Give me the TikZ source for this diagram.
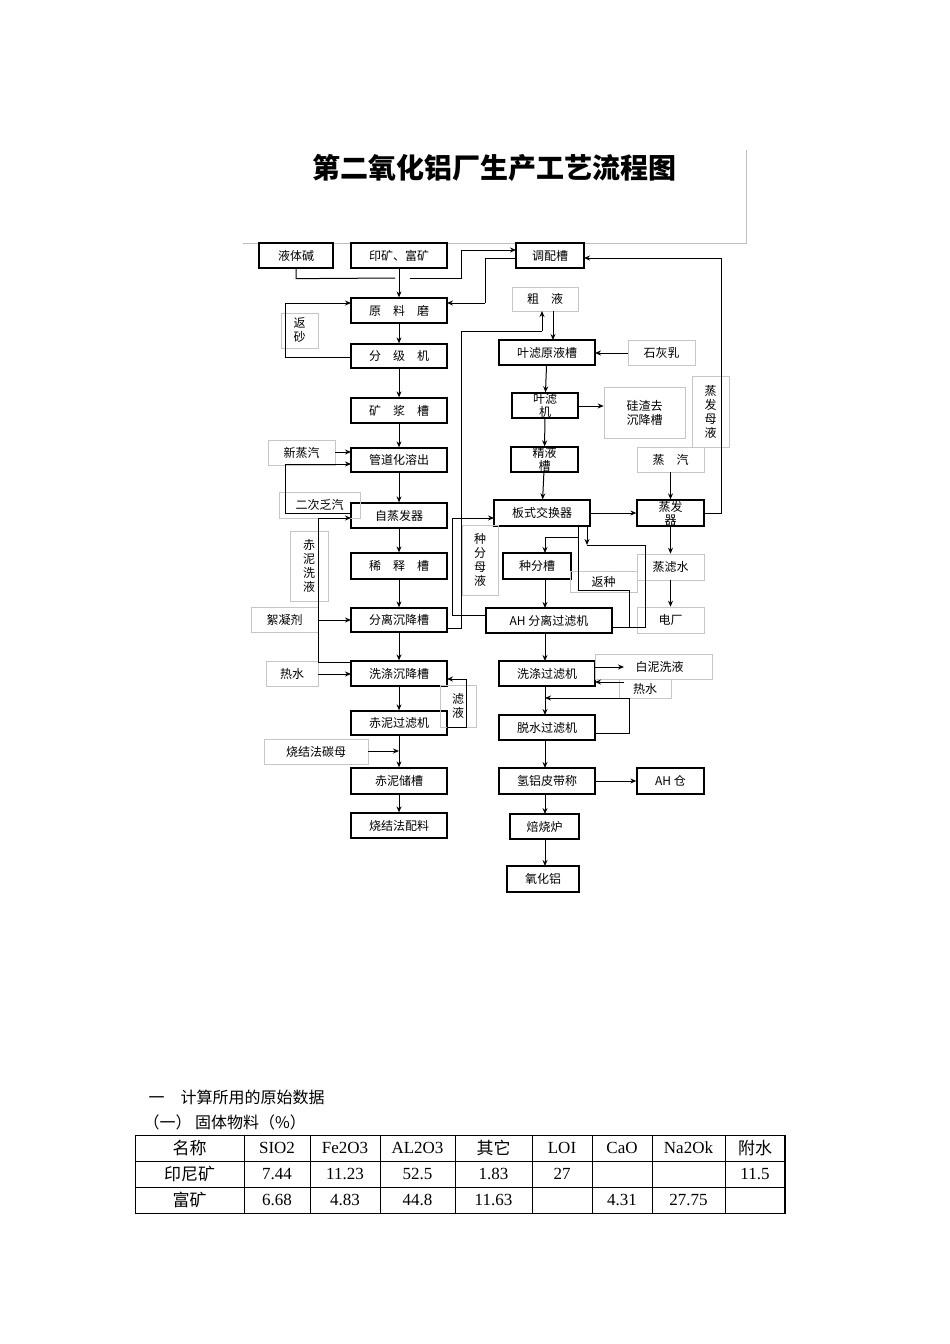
\documentclass[tikz,border=0pt]{standalone}
\usepackage{fontspec}
\setmainfont{Liberation Serif}
\newfontfamily\cjk{Noto Sans CJK SC}
\usetikzlibrary{arrows.meta}
\newcommand\bx[7][bk]{\node[#1,minimum width={(#5-#3)*1pt},minimum height={(#6-#4)*1pt}] (#2) at ({(#3+#5)/2},{(#4+#6)/2}) {#7};}
\begin{document}
\begin{tikzpicture}[x=1pt,y=-1pt,
 bk/.style={draw,line width=1.3pt,inner sep=0pt,font=\cjk\fontsize{12}{14}\selectfont,align=center},
 gy/.style={draw=gray!45,line width=0.6pt,inner sep=0pt,font=\cjk\fontsize{12}{14}\selectfont,align=center},
 ln/.style={line width=1pt},
 ar/.style={line width=1pt,-{Stealth[length=6pt,width=5pt]}},
 tc/.style={font=\fontsize{17}{18}\selectfont}]
\useasboundingbox[fill=white] (0,0) rectangle (950,1344);
% title
\node[font=\cjk\fontsize{28}{30}\selectfont\bfseries] (title) at (494,168) {第二氧化铝厂生产工艺流程图};
\draw[gray!50,line width=0.6pt] (746,150) -- (746,243) -- (243,243);
% left column
\bx{yjt}{259}{243}{333}{268}{液体碱}
\bx{ykf}{351}{243}{447}{268}{印矿、富矿}
\bx{tpc}{516}{243}{584}{268}{调配槽}
\bx{ylm}{351}{298}{447}{323}{原\quad 料\quad 磨}
\bx{fjj}{351}{344}{447}{368}{分\quad 级\quad 机}
\bx{kjc}{351}{398}{447}{423}{矿\quad 浆\quad 槽}
\bx{gdh}{351}{448}{447}{472}{管道化溶出}
\bx{zzf}{351}{503}{447}{528}{自蒸发器}
\bx{xsc}{351}{553}{447}{579}{稀\quad 释\quad 槽}
\bx{flc}{351}{608}{447}{632}{分离沉降槽}
\bx{xdc}{351}{661}{447}{686}{洗涤沉降槽}
\bx{cng}{351}{711}{447}{735}{赤泥过滤机}
\bx{cnc}{351}{768}{447}{794}{赤泥储槽}
\bx{sjp}{351}{813}{447}{838}{烧结法配料}
\bx[gy]{fs}{281}{313}{318}{348}{返\\砂}
\bx[gy]{xzq}{268}{440}{335}{465}{新蒸汽}
\bx[gy]{ecf}{279}{492}{360}{518}{二次乏汽}
\bx[gy]{cnx}{290}{531}{328}{601}{赤\\泥\\洗\\液}
\bx[gy]{xnj}{251}{607}{318}{632}{絮凝剂}
\bx[gy]{rs1}{266}{661}{318}{686}{热水}
\bx[gy]{ly}{440}{685}{476}{727}{滤\\液}
\bx[gy]{sjt}{264}{739}{368}{764}{烧结法碳母}
% right column
\bx[gy]{cy}{512}{287}{578}{311}{粗\quad 液}
\bx{ylc}{499}{340}{595}{365}{叶滤原液槽}
\bx[gy]{shr}{628}{340}{695}{365}{石灰乳}
\bx{ylj}{512}{393}{578}{418}{\raisebox{0pt}{叶滤}\\[-1pt]机}
\bx[gy]{gz}{604}{387}{685}{438}{硅渣去\\沉降槽}
\bx[gy]{zfm}{692}{376}{729}{447}{蒸\\发\\母\\液}
\bx{jyc}{511}{447}{578}{472}{精液\\[-1pt]槽}
\bx[gy]{zq}{637}{447}{704}{472}{蒸\quad 汽}
\bx{bsj}{494}{500}{590}{526}{板式交换器}
\bx{zfq}{637}{500}{704}{526}{蒸发\\[-1pt]器}
\bx[gy]{zfmy}{462}{525}{498}{595}{种\\分\\母\\液}
\bx{zfc}{503}{553}{571}{579}{种分槽}
\bx[gy]{zls}{637}{554}{704}{580}{蒸滤水}
\bx[gy]{fz}{570}{571}{637}{592}{返种}
\bx[gy]{dc}{637}{607}{704}{633}{电厂}
\bx{ahf}{486}{608}{612}{633}{AH 分离过滤机}
\bx{xdg}{499}{661}{595}{686}{洗涤过滤机}
\bx[gy]{bnx}{595}{654}{712}{679}{\quad 白泥洗液}
\bx[gy]{rs2}{619}{679}{671}{698}{热水}
\bx{tsg}{499}{715}{595}{740}{脱水过滤机}
\bx{qlp}{499}{768}{595}{794}{氢铝皮带称}
\bx{ahc}{637}{768}{704}{794}{AH 仓}
\bx{bsl}{510}{814}{579}{839}{焙烧炉}
\bx{yhl}{507}{866}{579}{892}{氧化铝}
% left connectors
\draw[ln] (yjt.south) -- ++(0,10) -- (395,278);
\draw[ar] (ykf.south) -- (ylm.north);
\draw[ln] (410,278) -- (461,278) -- (461,250);
\draw[ar] (461,250) -- (516,250);
\draw[ln] (516,258) -- (485,258) -- (485,303);
\draw[ar] (485,303) -- (447,303);
\draw[ln] (351,357) -- (285,357) -- (285,303);
\draw[ar] (285,303) -- (351,303);
\draw[ar] (ylm) -- (fjj);
\draw[ar] (fjj) -- (kjc);
\draw[ar] (kjc) -- (gdh);
\draw[ar] (gdh) -- (zzf);
\draw[ar] (zzf) -- (xsc);
\draw[ar] (xsc) -- (flc);
\draw[ar] (flc) -- (xdc);
\draw[ar] (xdc) -- (cng);
\draw[ar] (cng) -- (cnc);
\draw[ar] (cnc) -- (sjp);
\draw[ar] (xzq.east|-0,452) -- (351,452);
\draw[ln] (351,513) -- (285,513) -- (285,464);
\draw[ar] (285,464) -- (351,464);
\draw[ln] (351,662) -- (318,662) -- (318,518);
\draw[ar] (318,518) -- (351,518);
\draw[ar] (xnj.east|-0,620) -- (351,620);
\draw[ar] (rs1.east|-0,674) -- (351,674);
\draw[ln] (447,727) -- (466,727) -- (466,679);
\draw[ar] (466,679) -- (447,679);
\draw[ar] (sjt.east|-0,751) -- (399,751);
% right connectors
\draw[ln] (447,628) -- (461,628) -- (461,331) -- (542,331);
\draw[ar] (542,331) -- (542,311);
\draw[ar] (553,311) -- (553,340);
\draw[ar] (shr.west|-0,353) -- (595,353);
\draw[ar] (ylc) -- (ylj);
\draw[ar] (ylj.east|-0,406) -- (gz.west|-0,406);
\draw[ar] (ylj) -- (jyc);
\draw[ar] (jyc) -- (bsj);
\draw[ar] (bsj.east|-0,513) -- (zfq.west|-0,513);
\draw[ar] (zq) -- (zfq);
\draw[ln] (704,513) -- (721,513) -- (721,258);
\draw[ar] (721,258) -- (584,258);
\draw[ar] (zfq) -- (zls);
\draw[ar] (zls) -- (dc);
\draw[ln] (486,615) -- (452,615) -- (452,518);
\draw[ar] (452,518) -- (494,518);
\draw[ar] (587,526) -- (587,545);
\draw[ln] (587,545) -- (645,545) -- (645,627) -- (612,627);
\draw[ln] (578,526) -- (578,537) -- (545,537);
\draw[ar] (545,537) -- (545,553);
\draw[ln] (578,537) -- (578,590) -- (629,590) -- (629,627);
\draw[ar] (545,579) -- (545,608);
\draw[ar] (545,633) -- (545,661);
\draw[ar] (595,667) -- (624,667);
\draw[ar] (624,682) -- (595,682);
\draw[ar] (545,686) -- (545,715);
\draw[ln] (595,733) -- (629,733) -- (629,698);
\draw[ar] (629,698) -- (545,698);
\draw[ar] (545,740) -- (545,768);
\draw[ar] (qlp.east) -- (ahc.west);
\draw[ar] (545,794) -- (545,814);
\draw[ar] (545,839) -- (545,866);
% text below
\node[anchor=west,font=\cjk\fontsize{16}{18}\selectfont] (h1) at (145,1097) {一\quad 计算所用的原始数据};
\node[anchor=west,font=\cjk\fontsize{16}{18}\selectfont] (h2) at (140,1122) {（一）\ 固体物料（\%）};
% table
\draw[line width=0.8pt] (135,1135) rectangle (785,1213);
\draw[line width=0.8pt] (135,1161) -- (785,1161) (135,1187) -- (785,1187);
\foreach \xx in {244,310,380,455,532,592,652,725} \draw[line width=0.8pt] (\xx,1135) -- (\xx,1213);
\draw[line width=1.6pt] (785,1135) -- (785,1213);
\foreach \cx/\t [count=\i] in {189.5/{\cjk 名称},277/SIO2,345/Fe2O3,417.5/AL2O3,493.5/{\cjk 其它},562/LOI,622/CaO,688.5/Na2Ok,755/{\cjk 附水}}
 \node[tc] (ta\i) at (\cx,1148) {\t};
\foreach \cx/\t [count=\i] in {189.5/{\cjk 印尼矿},277/7.44,345/11.23,417.5/52.5,493.5/1.83,562/27,755/11.5}
 \node[tc] (tb\i) at (\cx,1174) {\t};
\foreach \cx/\t [count=\i] in {189.5/{\cjk 富矿},277/6.68,345/4.83,417.5/44.8,493.5/11.63,622/4.31,688.5/27.75}
 \node[tc] (tc\i) at (\cx,1200) {\t};
\end{tikzpicture}
\end{document}
